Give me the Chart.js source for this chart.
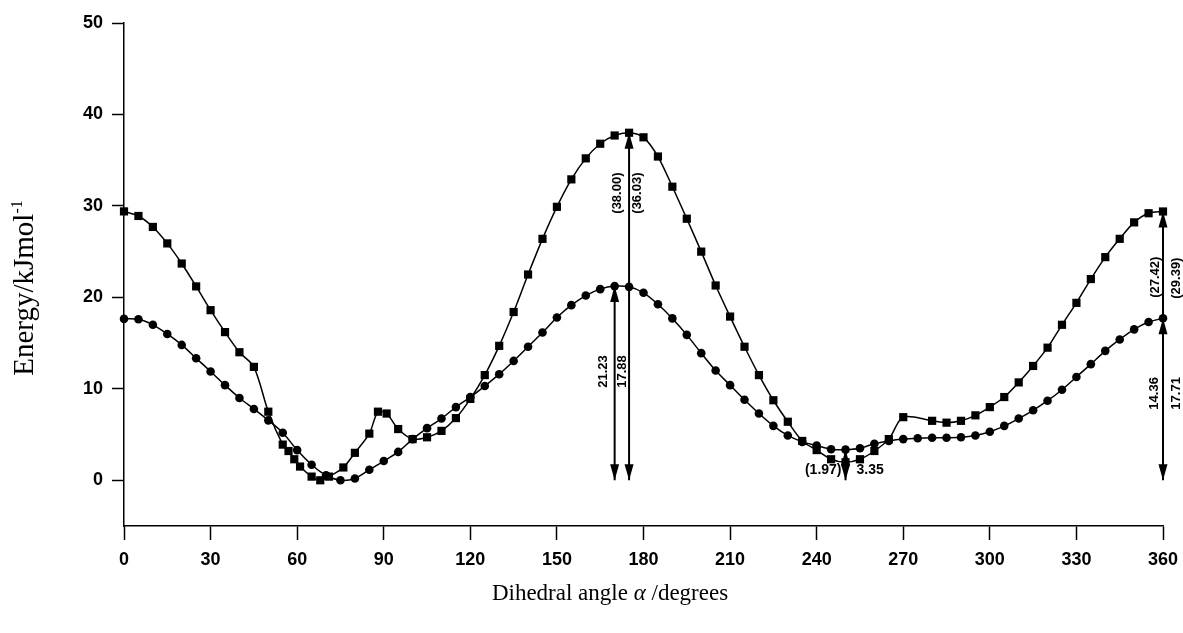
<!DOCTYPE html>
<html>
<head>
<meta charset="utf-8">
<script src="https://cdn.jsdelivr.net/npm/chart.js@4"></script>
<style>
  html, body { margin: 0; padding: 0; background: #fff; }
</style>
</head>
<body>
<canvas id="chart" width="1183" height="633"></canvas>
<script>
// Datos (angulo diedro en grados, energia en kJ/mol)
const angulosCuadrados = [0, 5, 10, 15, 20, 25, 30, 35, 40, 45, 50, 55, 57, 59, 61, 65, 68, 71, 76, 80,
  85, 88, 91, 95, 100, 105, 110, 115, 120, 125, 130, 135, 140, 145, 150, 155, 160, 165, 170, 175,
  180, 185, 190, 195, 200, 205, 210, 215, 220, 225, 230, 235, 240, 245, 250, 255, 260, 265, 270,
  280, 285, 290, 295, 300, 305, 310, 315, 320, 325, 330, 335, 340, 345, 350, 355, 360];
const energiaCuadrados = [29.4, 28.9, 27.7, 25.9, 23.7, 21.2, 18.6, 16.2, 14.0, 12.4, 7.5, 3.9, 3.2, 2.3, 1.5, 0.4, 0.0, 0.4, 1.4, 3.0,
  5.1, 7.5, 7.3, 5.6, 4.5, 4.7, 5.4, 6.8, 8.9, 11.5, 14.7, 18.4, 22.5, 26.4, 29.9, 32.9, 35.2, 36.8, 37.7, 38.0,
  37.5, 35.4, 32.1, 28.6, 25.0, 21.3, 17.9, 14.6, 11.5, 8.75, 6.4, 4.3, 3.3, 2.3, 1.97, 2.3, 3.2, 4.5, 6.9,
  6.5, 6.3, 6.5, 7.1, 8.0, 9.1, 10.7, 12.5, 14.5, 17.0, 19.4, 22.0, 24.4, 26.4, 28.2, 29.2, 29.39];

const angulosCirculos = [0, 5, 10, 15, 20, 25, 30, 35, 40, 45, 50, 55, 60, 65, 70, 75, 80, 85, 90, 95,
  100, 105, 110, 115, 120, 125, 130, 135, 140, 145, 150, 155, 160, 165, 170, 175, 180, 185, 190, 195,
  200, 205, 210, 215, 220, 225, 230, 235, 240, 245, 250, 255, 260, 265, 270, 275, 280, 285, 290, 295,
  300, 305, 310, 315, 320, 325, 330, 335, 340, 345, 350, 355, 360];
const energiaCirculos = [17.65, 17.6, 17.0, 16.0, 14.8, 13.35, 11.9, 10.4, 9.0, 7.8,
  6.55, 5.2, 3.3, 1.7, 0.55, 0.0, 0.2, 1.15, 2.1, 3.1,
  4.5, 5.7, 6.75, 8.0, 9.1, 10.3, 11.6, 13.05, 14.6, 16.15,
  17.8, 19.15, 20.2, 20.9, 21.23, 21.15, 20.5, 19.25, 17.7, 15.9,
  13.9, 12.0, 10.4, 8.8, 7.3, 5.95, 4.9, 4.2, 3.8, 3.4,
  3.35, 3.5, 4.0, 4.3, 4.5, 4.6, 4.65, 4.65, 4.7, 4.9,
  5.3, 5.95, 6.75, 7.65, 8.7, 9.9, 11.3, 12.7, 14.15, 15.4,
  16.5, 17.3, 17.71];

const ticksX = [0, 30, 60, 90, 120, 150, 180, 210, 240, 270, 300, 330, 360];
const ticksY = [0, 10, 20, 30, 40, 50];

// Flechas de barrera: angulo, energia inferior, energia superior
const flechaAngulo = [170, 175, 250, 360, 360];
const flechaDesde = [0, 0, 0, 0, 17.71];
const flechaHasta = [21.23, 38.0, 3.35, 17.71, 29.39];

// Etiquetas de las flechas
const etiquetaTexto = ['21.23', '17.88', '(38.00)', '(36.03)', '14.36', '17.71', '(27.42)', '(29.39)', '(1.97)', '3.35'];
const etiquetaAngulo = [170, 175, 175, 175, 360, 360, 360, 360, 250, 250];
const etiquetaEnergia = [11.9, 11.9, 31.4, 31.4, 9.5, 9.5, 22.2, 22.1, 1.1, 1.1];

const negro = '#000';

// Plugin: flechas, etiquetas y titulos de los ejes
const anotaciones = {
  id: 'anotaciones',
  afterDatasetsDraw(chart) {
    const { ctx, scales: { x, y } } = chart;
    ctx.save();
    ctx.strokeStyle = negro;
    ctx.fillStyle = negro;
    ctx.lineWidth = 2;

    const punta = (px, py, dir) => {
      // dir = 1 apunta hacia abajo, -1 hacia arriba
      const largo = 16, ancho = 4.5;
      ctx.beginPath();
      ctx.moveTo(px, py);
      ctx.lineTo(px - ancho, py - dir * largo);
      ctx.lineTo(px + ancho, py - dir * largo);
      ctx.closePath();
      ctx.fill();
    };

    flechaAngulo.forEach((a, i) => {
      const px = x.getPixelForValue(a);
      const y0 = y.getPixelForValue(flechaDesde[i]);
      const y1 = y.getPixelForValue(flechaHasta[i]);
      ctx.beginPath();
      ctx.moveTo(px, y0);
      ctx.lineTo(px, y1);
      ctx.stroke();
      if (flechaDesde[i] === 0) punta(px, y0, 1);
      punta(px, y1, -1);
    });

    // desplazamientos de cada etiqueta respecto a su flecha
    const dx = [-11, -7, -11.5, 8.5, -9, 13, -8, 13, -4, 11];
    ctx.font = 'bold 13px "Liberation Sans"';
    ctx.textBaseline = 'middle';
    etiquetaTexto.forEach((t, i) => {
      const px = x.getPixelForValue(etiquetaAngulo[i]) + dx[i];
      const py = y.getPixelForValue(etiquetaEnergia[i]);
      ctx.save();
      ctx.translate(px, py);
      if (etiquetaAngulo[i] === 250) {
        ctx.font = 'bold 14px "Liberation Sans"';
        ctx.textAlign = dx[i] < 0 ? 'right' : 'left';
      } else {
        ctx.rotate(-Math.PI / 2);
        ctx.textAlign = 'center';
      }
      ctx.fillText(t, 0, 0);
      ctx.restore();
    });

    // titulo del eje x
    ctx.textBaseline = 'alphabetic';
    ctx.textAlign = 'left';
    const partes = [
      ['Dihedral angle ', '23px "Liberation Serif"'],
      ['\u03B1', 'italic 23px "Liberation Serif"'],
      [' /degrees', '23px "Liberation Serif"']
    ];
    let total = 0;
    partes.forEach(([t, f]) => { ctx.font = f; total += ctx.measureText(t).width; });
    let cx = 610 - total / 2;
    partes.forEach(([t, f]) => { ctx.font = f; ctx.fillText(t, cx, 600); cx += ctx.measureText(t).width; });

    // titulo del eje y
    ctx.save();
    ctx.translate(33, 288);
    ctx.rotate(-Math.PI / 2);
    ctx.font = '29px "Liberation Serif"';
    const base = 'Energy/kJmol';
    const wBase = ctx.measureText(base).width;
    ctx.font = '16px "Liberation Serif"';
    const wSup = ctx.measureText('-1').width;
    const inicio = -(wBase + wSup) / 2;
    ctx.font = '29px "Liberation Serif"';
    ctx.fillText(base, inicio, 0);
    ctx.font = '16px "Liberation Serif"';
    ctx.fillText('-1', inicio + wBase, -11);
    ctx.restore();

    ctx.restore();
  }
};

const fuenteTicks = { family: 'Liberation Sans', size: 18, weight: 'bold' };

new Chart(document.getElementById('chart'), {
  type: 'line',
  data: {
    datasets: [
      {
        data: angulosCuadrados.map((a, i) => ({ x: a, y: energiaCuadrados[i] })),
        borderColor: negro,
        borderWidth: 1.5,
        pointStyle: 'rect',
        pointRadius: 5.8,
        pointBackgroundColor: negro,
        pointBorderWidth: 0,
        tension: 0.3,
        clip: false
      },
      {
        data: angulosCirculos.map((a, i) => ({ x: a, y: energiaCirculos[i] })),
        borderColor: negro,
        borderWidth: 1.5,
        pointStyle: 'circle',
        pointRadius: 4.3,
        pointBackgroundColor: negro,
        pointBorderWidth: 0,
        tension: 0.3,
        clip: false
      }
    ]
  },
  options: {
    responsive: false,
    animation: false,
    devicePixelRatio: 1,
    layout: { padding: { top: 23, right: 20, left: 0, bottom: 0 } },
    plugins: { legend: { display: false }, tooltip: { enabled: false } },
    scales: {
      x: {
        type: 'linear',
        min: 0,
        max: 360,
        afterBuildTicks: s => { s.ticks = ticksX.map(v => ({ value: v })); },
        afterFit: s => { s.height = 107; s.paddingLeft = 0; s.paddingRight = 0; },
        border: { display: true, color: negro, width: 1.5 },
        grid: { drawOnChartArea: false, drawTicks: true, tickLength: 14, tickColor: negro, tickWidth: 1.5 },
        ticks: { color: negro, font: fuenteTicks, padding: 9, maxRotation: 0, autoSkip: false }
      },
      y: {
        type: 'linear',
        min: -5,
        max: 50,
        afterBuildTicks: s => { s.ticks = ticksY.map(v => ({ value: v })); },
        afterFit: s => { s.width = 124; s.paddingTop = 0; s.paddingBottom = 0; },
        border: { display: true, color: negro, width: 1.5 },
        grid: { drawOnChartArea: false, drawTicks: true, tickLength: 12, tickColor: negro, tickWidth: 1.5 },
        ticks: { color: negro, font: fuenteTicks, padding: 9 }
      }
    }
  },
  plugins: [anotaciones]
});
</script>
</body>
</html>
